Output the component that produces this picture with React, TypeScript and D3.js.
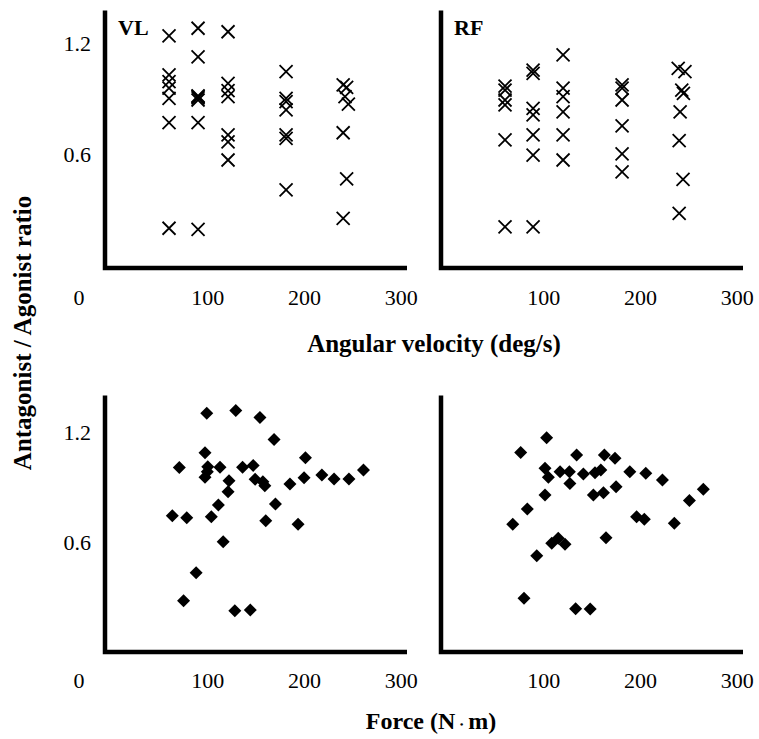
import React from "react";
import * as d3 from "d3";

// ---- tick labels ----
const xTickValues = [100, 200, 300];
const yTickValues = [0.6, 1.2];
const originLabel = "0";

// ---- VL: angular velocity vs ratio ----
const vlVelocity = [60, 60, 60, 60, 60, 60, 60,
  90, 90, 90, 90, 90, 90, 90, 90,
  121, 121, 121, 121, 121, 121, 121,
  181, 181, 181, 181, 181, 181, 181,
  240, 243.6, 241.9, 245.4, 240, 243.6, 240];
const vlRatio = [1.262, 1.049, 1.013, 0.977, 0.922, 0.79, 0.216,
  1.303, 1.148, 0.931, 0.925, 0.935, 0.913, 0.79, 0.21,
  1.284, 1.004, 0.964, 0.931, 0.723, 0.686, 0.587,
  1.067, 0.922, 0.904, 0.859, 0.723, 0.705, 0.424,
  0.995, 0.982, 0.931, 0.891, 0.735, 0.484, 0.27];

// ---- RF: angular velocity vs ratio ----
const rfVelocity = [60, 60, 60, 60, 60, 60,
  89, 89, 89, 89, 89, 89, 89,
  120, 120, 120, 120, 120, 120,
  181, 181, 181, 181, 181, 181,
  239, 246, 242.7, 244.4, 241, 240, 244, 240];
const rfRatio = [0.989, 0.967, 0.913, 0.886, 0.696, 0.224,
  1.076, 1.058, 0.868, 0.832, 0.723, 0.614, 0.224,
  1.158, 0.977, 0.931, 0.849, 0.723, 0.587,
  0.995, 0.977, 0.913, 0.772, 0.62, 0.523,
  1.085, 1.067, 0.967, 0.949, 0.849, 0.692, 0.482, 0.297];

// ---- VL: force vs ratio ----
const vlForce = [99, 129, 154, 168.6, 97.2, 201, 70.6, 100, 112.7, 136, 147, 97.2, 99.6, 122,
  149, 157, 159, 199.6, 185, 218, 230.6, 246, 261, 121, 111, 170, 63.4, 78.3, 103.7, 160,
  193.4, 116, 88, 75, 128, 144];
const vlForceRatio = [1.302, 1.317, 1.28, 1.16, 1.087, 1.06, 1.006, 1.011, 1.008, 1.008, 1.018, 0.953, 0.984, 0.935,
  0.942, 0.929, 0.907, 0.951, 0.917, 0.966, 0.944, 0.944, 0.993, 0.875, 0.802, 0.807, 0.744, 0.733, 0.738, 0.716,
  0.697, 0.602, 0.433, 0.28, 0.225, 0.229];

// ---- RF: force vs ratio ----
const rfForce = [103, 76.2, 134, 162.7, 173.7, 101.3, 116.9, 126.5, 141, 153, 159, 189, 205.5, 222.7,
  104.8, 127, 174.8, 151.3, 161.7, 101.3, 265, 250.6, 83, 196, 204, 235, 68, 164.4, 108.3, 115,
  122, 92.8, 79.6, 133, 148];
const rfForceRatio = [1.169, 1.089, 1.075, 1.075, 1.057, 1.002, 0.984, 0.984, 0.971, 0.978, 0.993, 0.984, 0.975, 0.938,
  0.953, 0.92, 0.902, 0.857, 0.869, 0.857, 0.888, 0.826, 0.78, 0.738, 0.724, 0.702, 0.697, 0.624, 0.593, 0.62,
  0.588, 0.525, 0.293, 0.236, 0.235];

const FONT = "'Liberation Serif', 'Times New Roman', serif";

type PanelProps = {
  xs: number[];
  ys: number[];
  xRange: [number, number];
  yRange: [number, number];
  marker: "cross" | "diamond";
  label?: string;
  showY: boolean;
  tickDy: number;
  yLabelDy: number;
};

function Panel({ xs, ys, xRange, yRange, marker, label, showY, tickDy, yLabelDy }: PanelProps) {
  const x = d3.scaleLinear().domain([-6.2, 306]).range(xRange);
  const y = d3.scaleLinear().domain([0, 1.4]).range(yRange);
  const x0 = xRange[0];
  const y0 = yRange[0];
  const diamond = "M0,-6.5L6.5,0L0,6.5L-6.5,0Z";
  return (
    <g>
      {xs.map((xv, i) => {
        const cx = x(xv);
        const cy = y(ys[i]);
        return marker === "cross" ? (
          <path key={i} d="M-6.5,-6.5L6.5,6.5M-6.5,6.5L6.5,-6.5" transform={`translate(${cx},${cy})`}
            stroke="#000" strokeWidth={1.8} fill="none" />
        ) : (
          <path key={i} d={diamond} transform={`translate(${cx},${cy})`} fill="#000" />
        );
      })}
      <path d={`M${x0},${yRange[1]}L${x0},${y0}L${xRange[1]},${y0}`} stroke="#000" strokeWidth={4.5} fill="none" />
      {xTickValues.map((t) => (
        <text key={t} x={x(t)} y={y0 + tickDy} textAnchor="middle" fontFamily={FONT} fontSize={22}>{t}</text>
      ))}
      {showY && yTickValues.map((t) => (
        <text key={t} x={91} y={y(t) + yLabelDy} textAnchor="end" fontFamily={FONT} fontSize={22}>{t.toFixed(1)}</text>
      ))}
      {showY && (
        <text x={79} y={y0 + tickDy} textAnchor="middle" fontFamily={FONT} fontSize={22}>{originLabel}</text>
      )}
      {label && (
        <text x={x0 + 13} y={yRange[1] + 25} fontFamily={FONT} fontSize={22} fontWeight="bold">{label}</text>
      )}
    </g>
  );
}

export default function App() {
  return (
    <svg width={759} height={739} style={{ position: "absolute", left: 0, top: 0, background: "#fff" }}>
      <rect width={759} height={739} fill="#fff" />
      <Panel xs={vlVelocity} ys={vlRatio} xRange={[105, 407]} yRange={[268, 10.4]} marker="cross" label="VL" showY tickDy={37} yLabelDy={4} />
      <Panel xs={rfVelocity} ys={rfRatio} xRange={[441, 743]} yRange={[268, 10.4]} marker="cross" label="RF" showY={false} tickDy={37} yLabelDy={4} />
      <Panel xs={vlForce} ys={vlForceRatio} xRange={[105, 407]} yRange={[652, 395.4]} marker="diamond" showY tickDy={36} yLabelDy={7.5} />
      <Panel xs={rfForce} ys={rfForceRatio} xRange={[441, 743]} yRange={[652, 395.4]} marker="diamond" showY={false} tickDy={36} yLabelDy={7.5} />
      <text x={434} y={352} textAnchor="middle" fontFamily={FONT} fontSize={25} fontWeight="bold">Angular velocity (deg/s)</text>
      <text x={431} y={729} textAnchor="middle" fontFamily={FONT} fontSize={24} fontWeight="bold">Force (N<tspan fontSize={13}>・</tspan>m)</text>
      <text transform="translate(31,333) rotate(-90)" textAnchor="middle" fontFamily={FONT} fontSize={25} fontWeight="bold">Antagonist / Agonist ratio</text>
    </svg>
  );
}
